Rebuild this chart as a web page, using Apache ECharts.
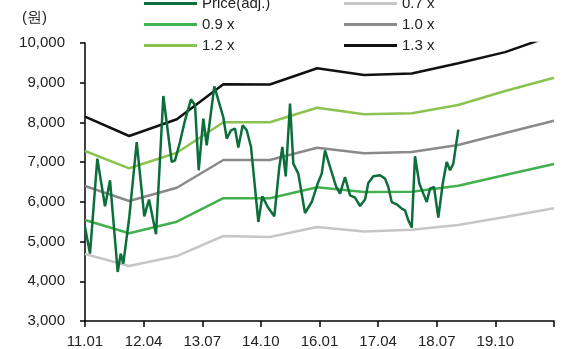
<!DOCTYPE html>
<html>
<head>
<meta charset="utf-8">
<script src="https://cdn.jsdelivr.net/npm/echarts@6/dist/echarts.min.js"></script>
<style>
html,body{margin:0;padding:0;background:#fff;}
#chart{width:571px;height:349px;}
</style>
</head>
<body>
<div id="chart"></div>
<script>
// x positions are months since 2011.01
var xTickLabels = ['11.01','12.04','13.07','14.10','16.01','17.04','18.07','19.10',''];
var bandMonths = [0, 11.3, 23.5, 35.4, 47.3, 59.4, 71.4, 83.6, 95.5, 107.5, 120];
var band07 = [4687, 4384, 4636, 5140, 5115, 5366, 5256, 5298, 5417, 5618, 5837];
var band09 = [5543, 5208, 5500, 6092, 6089, 6366, 6248, 6255, 6406, 6676, 6953];
var band10 = [6399, 6021, 6356, 7054, 7054, 7363, 7222, 7255, 7431, 7734, 8043];
var band12 = [7280, 6845, 7237, 8003, 8003, 8371, 8205, 8230, 8439, 8790, 9126];
var band13 = [8144, 7658, 8080, 8960, 8955, 9363, 9194, 9232, 9489, 9770, 10200];
var priceMonths = [0,1.28,3.15,5.12,6.4,8.37,9.14,9.8,11.34,13.23,15.17,16.38,18.17,20.04,22.18,23.03,24.3,25.59,27.12,28.15,29.09,30.27,31.14,33.09,35.39,36.26,37.36,38.38,39.23,40.35,41.38,42.48,44.35,45.37,46.75,48.44,49.72,50.49,51.36,52.46,53.3,54.58,56.29,58.01,59.54,60.57,61.41,62.69,64.23,65.25,66.53,67.81,69.09,70.37,71.65,72.49,73.77,75.49,76.77,77.61,78.48,79.76,81.04,81.88,82.73,83.6,84.44,85.54,86.57,87.44,88.28,89.3,90.4,91.53,92.55,93.4,94.24,95.52];
var priceValues = [5366,4697,7089,5888,6543,4234,4697,4445,5619,7507,5636,6057,5183,8665,7004,7046,7507,8054,8582,8431,6795,8096,7424,8910,8130,7593,7802,7845,7366,7928,7802,7381,5493,6140,5870,5636,6878,7381,6643,8474,6963,6711,5719,5996,6460,6711,7298,6878,6392,6208,6626,6165,6107,5896,6057,6475,6643,6669,6586,6374,5996,5938,5830,5787,5535,5352,7147,6460,6208,5996,6334,6374,5604,6460,7004,6795,6963,7819];
var seriesNames = ['Price(adj.)','0.7 x','0.9 x','1.0 x','1.2 x','1.3 x'];

function pairs(xs, ys){ return xs.map(function(x,i){ return [x, ys[i]]; }); }

var FONT = 'Liberation Sans';
var textColor = '#222';

function bandSeries(name, data, color){
  return {
    name: name, type: 'line', data: pairs(bandMonths, data),
    symbol: 'none', lineStyle: {color: color, width: 2.5}, itemStyle: {color: color},
    clip: true, z: 2
  };
}

function legendCfg(names, left){
  return {
    data: names,
    orient: 'vertical', left: left, top: -9,
    icon: 'rect', itemWidth: 53, itemHeight: 3, itemGap: 6,
    textStyle: {fontFamily: FONT, fontSize: 15, color: textColor, lineHeight: 14}
  };
}

var chart = echarts.init(document.getElementById('chart'));
chart.setOption({
  animation: false,
  backgroundColor: '#fff',
  title: {
    text: '(원)', left: 17, top: 5,
    textStyle: {fontFamily: FONT, fontSize: 15, fontWeight: 'normal', color: textColor}
  },
  legend: [
    legendCfg([seriesNames[0], seriesNames[2], seriesNames[4]], 139),
    legendCfg([seriesNames[1], seriesNames[3], seriesNames[5]], 339)
  ],
  grid: {left: 85, right: 17, top: 43, bottom: 28, containLabel: false},
  xAxis: {
    type: 'value', min: 0, max: 120, interval: 15,
    axisLine: {show: true, lineStyle: {color: '#000', width: 1.5}},
    axisTick: {show: true, length: 6, lineStyle: {color: '#000', width: 1.5}},
    splitLine: {show: false},
    axisLabel: {
      margin: 13, fontFamily: FONT, fontSize: 15, color: textColor,
      showMinLabel: true, showMaxLabel: true,
      formatter: function(v){ return xTickLabels[Math.round(v/15)] || ''; }
    }
  },
  yAxis: {
    type: 'value', min: 3000, max: 10000, interval: 1000,
    axisLine: {show: true, lineStyle: {color: '#000', width: 1.5}},
    axisTick: {show: true, length: 5, lineStyle: {color: '#000', width: 1.5}},
    splitLine: {show: false},
    axisLabel: {
      margin: 20, fontFamily: FONT, fontSize: 15, color: textColor,
      formatter: function(v){ return v.toLocaleString('en-US'); }
    }
  },
  series: [
    bandSeries(seriesNames[1], band07, '#c6c6c6'),
    bandSeries(seriesNames[2], band09, '#42b04e'),
    bandSeries(seriesNames[3], band10, '#8a8a8a'),
    bandSeries(seriesNames[4], band12, '#8cc350'),
    bandSeries(seriesNames[5], band13, '#111111'),
    {
      name: seriesNames[0], type: 'line', data: pairs(priceMonths, priceValues),
      symbol: 'none', lineStyle: {color: '#0b6e3b', width: 2.5}, itemStyle: {color: '#0b6e3b'},
      clip: true, z: 3
    }
  ]
});
</script>
</body>
</html>
